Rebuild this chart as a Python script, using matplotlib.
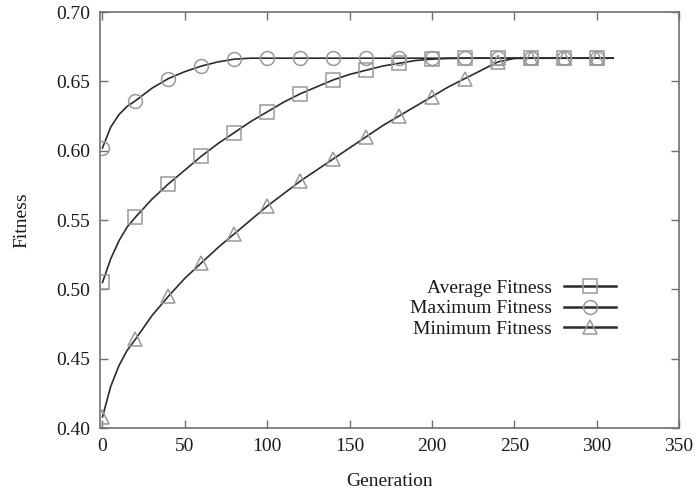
import matplotlib
matplotlib.use("Agg")
import matplotlib.pyplot as plt
from matplotlib.lines import Line2D

plt.rcParams['font.family'] = ['Liberation Serif', 'DejaVu Serif']

generations = [0, 5, 10, 15, 20, 30, 40, 50, 60, 70, 80, 90, 100, 110, 120, 130, 140, 150,
               160, 170, 180, 190, 200, 210, 220, 230, 240, 250, 260, 270, 280, 290, 300, 310]

max_fitness = [0.602, 0.617, 0.626, 0.632, 0.636, 0.645, 0.652, 0.657, 0.661, 0.664, 0.666, 0.6667,
               0.6667, 0.6667, 0.6667, 0.6667, 0.6667, 0.6667, 0.6667, 0.6667, 0.6667, 0.6667,
               0.6667, 0.6667, 0.6667, 0.6667, 0.6667, 0.6667, 0.6667, 0.6667, 0.6667, 0.6667,
               0.6667, 0.6667]

avg_fitness = [0.505, 0.522, 0.535, 0.545, 0.552, 0.565, 0.576, 0.586, 0.596, 0.605, 0.613, 0.621,
               0.628, 0.635, 0.641, 0.646, 0.651, 0.655, 0.658, 0.661, 0.663, 0.665, 0.666, 0.6665,
               0.6667, 0.6667, 0.6667, 0.6667, 0.6667, 0.6667, 0.6667, 0.6667, 0.6667, 0.6667]

min_fitness = [0.408, 0.430, 0.445, 0.456, 0.464, 0.481, 0.495, 0.508, 0.519, 0.530, 0.540, 0.550,
               0.560, 0.569, 0.578, 0.586, 0.594, 0.602, 0.610, 0.618, 0.625, 0.632, 0.639, 0.646,
               0.652, 0.658, 0.664, 0.6665, 0.6667, 0.6667, 0.6667, 0.6667, 0.6667, 0.6667]

labels = ["Average Fitness", "Maximum Fitness", "Minimum Fitness"]
markers = ["s", "o", "^"]
series = [avg_fitness, max_fitness, min_fitness]

line_color = "#2b2b2b"
marker_color = "#999999"
spine_color = "#707070"
text_color = "#1a1a1a"

fig = plt.figure(figsize=(6.96, 4.90), dpi=100)
ax = fig.add_axes([0.1437, 0.1265, 0.832, 0.849])

mark_idx = [i for i, g in enumerate(generations) if g % 20 == 0 and g <= 300]

handles = []
for vals, m, lab in zip(series, markers, labels):
    ax.plot(generations, vals, color=line_color, lw=1.2, zorder=2)
    ax.plot([generations[i] for i in mark_idx], [vals[i] for i in mark_idx],
            linestyle='none', marker=m, markersize=10,
            markerfacecolor='none', markeredgecolor=marker_color, markeredgewidth=1.1, zorder=3)
    handles.append(Line2D([], [], color=line_color, lw=1.8, marker=m, markersize=10,
                          markerfacecolor='none', markeredgecolor=marker_color,
                          markeredgewidth=1.1))

ax.set_xlim(-1.5, 350)
ax.set_ylim(0.40, 0.70)
ax.set_xticks([0, 50, 100, 150, 200, 250, 300, 350])
ax.set_yticks([0.40, 0.45, 0.50, 0.55, 0.60, 0.65, 0.70])
ax.set_yticklabels(["0.40", "0.45", "0.50", "0.55", "0.60", "0.65", "0.70"])
ax.tick_params(direction='in', length=6, width=1, color=spine_color, top=True, right=True,
               labelsize=14, pad=7, labelcolor=text_color)
for sp in ax.spines.values():
    sp.set_color(spine_color)
    sp.set_linewidth(1.2)

ax.set_xlabel("Generation", fontsize=14, color=text_color, labelpad=13)
ax.set_ylabel("Fitness", fontsize=14, color=text_color, labelpad=19)

leg = ax.legend(handles, labels, loc='lower right', bbox_to_anchor=(0.908, 0.193),
                frameon=False, markerfirst=False, fontsize=14, handlelength=2.7,
                labelspacing=0.15, handletextpad=0.6, borderpad=0)
for t in leg.get_texts():
    t.set_color(text_color)

fig.savefig("out.png", dpi=100)
